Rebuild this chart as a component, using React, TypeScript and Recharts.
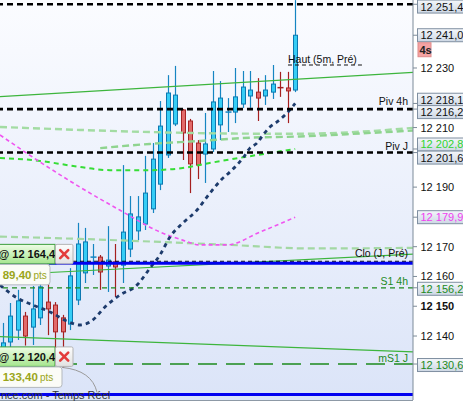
import React from 'react';
import { ComposedChart, Bar, Line, XAxis, YAxis, ReferenceLine } from 'recharts';

const FONT = '"Liberation Sans", Arial, Helvetica, sans-serif';

// ---- candles (5 min) ----
const candleIndex = [0, 1, 2, 3, 4, 5, 6, 7, 8, 9, 10, 11, 12, 13, 14, 15, 16, 17, 18, 19, 20, 21, 22, 23, 24, 25, 26, 27, 28, 29, 30, 31, 32, 33, 34, 35, 36, 37, 38, 39];
const opens = [12134.6, 12138.0, 12142.0, 12146.7, 12143.0, 12146.1, 12151.4, 12150.4, 12146.1, 12144.0, 12152.1, 12161.2, 12166.5, 12166.5, 12163.5, 12164.9, 12163.8, 12169.2, 12175.3, 12177.6, 12182.7, 12191.0, 12200.8, 12211.2, 12215.9, 12212.2, 12204.8, 12201.1, 12202.8, 12210.9, 12215.2, 12215.2, 12217.9, 12220.6, 12221.9, 12220.6, 12221.9, 12223.4, 12223.3, 12222.6];
const highs = [12144.4, 12151.1, 12155.5, 12148.1, 12156.8, 12159.1, 12157.5, 12151.4, 12147.1, 12162.8, 12178.0, 12176.3, 12170.9, 12167.2, 12176.9, 12170.9, 12197.4, 12187.0, 12187.0, 12200.5, 12204.8, 12218.9, 12227.6, 12230.7, 12216.2, 12212.9, 12205.8, 12214.9, 12229.0, 12225.6, 12219.9, 12230.0, 12229.0, 12229.0, 12226.6, 12227.6, 12231.0, 12228.7, 12228.7, 12252.8];
const lows = [12133.3, 12135.3, 12138.7, 12136.8, 12137.0, 12143.7, 12140.3, 12133.6, 12129.3, 12142.0, 12150.4, 12157.8, 12160.5, 12155.5, 12154.8, 12153.1, 12157.8, 12166.5, 12172.2, 12175.6, 12181.3, 12189.0, 12199.8, 12210.5, 12199.1, 12188.0, 12192.7, 12191.4, 12201.8, 12205.8, 12208.5, 12211.5, 12216.6, 12216.6, 12212.2, 12217.6, 12219.6, 12220.3, 12211.5, 12221.9];
const closes = [12137.7, 12146.7, 12151.8, 12140.0, 12149.1, 12156.5, 12149.1, 12141.4, 12141.4, 12160.2, 12170.9, 12171.6, 12166.5, 12161.5, 12165.5, 12163.2, 12174.9, 12181.0, 12180.0, 12188.0, 12199.4, 12210.5, 12221.6, 12220.9, 12208.2, 12197.8, 12197.4, 12204.5, 12218.6, 12219.9, 12215.2, 12220.3, 12223.6, 12222.6, 12219.9, 12222.6, 12224.6, 12223.2, 12222.3, 12241.0];

// ---- indicator curves ({i: bar index, v: price}) ----
const trendUpper = [{ i: -0.36, v: 12220.4 }, { i: 54.71, v: 12228.5 }];
const trendMid = [{ i: -0.36, v: 12160.5 }, { i: 54.71, v: 12167.5 }];
const trendLow = [{ i: -0.36, v: 12139.8 }, { i: 54.71, v: 12134.7 }];

const greenA = [{ i: -0.36, v: 12210.2 }, { i: 10.3, v: 12209.2 }, { i: 21.0, v: 12208.4 }, { i: 30.3, v: 12208.0 }, { i: 39.6, v: 12207.9 }, { i: 47.6, v: 12208.6 }, { i: 54.71, v: 12209.9 }];
const greenB = [{ i: 13.0, v: 12203.1 }, { i: 19.6, v: 12204.5 }, { i: 26.3, v: 12205.5 }, { i: 33.0, v: 12206.6 }, { i: 39.6, v: 12207.0 }, { i: 47.6, v: 12208.0 }, { i: 54.71, v: 12209.0 }];
const greenBright = [{ i: -0.36, v: 12199.8 }, { i: 5.0, v: 12198.8 }, { i: 9.4, v: 12197.1 }, { i: 14.3, v: 12195.7 }, { i: 19.6, v: 12195.7 }, { i: 24.0, v: 12196.4 }, { i: 27.6, v: 12198.1 }, { i: 33.0, v: 12200.4 }, { i: 39, v: 12202.8 }];
const greenLow = [{ i: -0.36, v: 12173.4 }, { i: 10.3, v: 12172.6 }, { i: 21.0, v: 12171.6 }, { i: 30.3, v: 12170.6 }, { i: 41.0, v: 12169.4 }, { i: 54.71, v: 12169.6 }];
const pinkAvg = [{ i: -0.36, v: 12207.5 }, { i: 5.0, v: 12198.4 }, { i: 10.3, v: 12190.0 }, { i: 15.6, v: 12182.3 }, { i: 21.0, v: 12174.9 }, { i: 24.0, v: 12172.2 }, { i: 26.3, v: 12170.6 }, { i: 29.9, v: 12170.6 }, { i: 34.3, v: 12174.9 }, { i: 39, v: 12179.9 }];
const navyTrail = [{ i: -0.36, v: 12157.1 }, { i: 1.91, v: 12152.8 }, { i: 4.04, v: 12150.4 }, { i: 6.31, v: 12148.1 }, { i: 8.57, v: 12145.0 }, { i: 10.31, v: 12143.7 }, { i: 11.64, v: 12144.7 }, { i: 13.91, v: 12150.4 }, { i: 15.64, v: 12153.8 }, { i: 17.91, v: 12157.1 }, { i: 19.64, v: 12162.8 }, { i: 20.97, v: 12167.2 }, { i: 22.31, v: 12173.3 }, { i: 24.04, v: 12178.0 }, { i: 25.91, v: 12182.3 }, { i: 27.64, v: 12188.0 }, { i: 29.24, v: 12192.7 }, { i: 30.31, v: 12195.1 }, { i: 32.04, v: 12199.8 }, { i: 32.97, v: 12203.1 }, { i: 33.91, v: 12204.8 }, { i: 34.71, v: 12207.5 }, { i: 35.51, v: 12209.9 }, { i: 36.57, v: 12211.9 }, { i: 37.64, v: 12214.2 }, { i: 39, v: 12218.1 }];
const hautSegment = [{ i: 38.04, v: 12231.0 }, { i: 47.9, v: 12231.0 }];

// ---- levels ----
const levelR = 12251.4;
const levelPiv4h = 12216.2;
const levelPivJ = 12201.6;
const levelClo = 12165.1;
const levelS14h = 12156.2;
const levelMS1J = 12130.6;
const orderHigh = 12164.4;
const orderLow = 12120.4;
const orderHighPts = '89,40';
const orderLowPts = '133,40';

// ---- axis ----
const X_DOMAIN = [-0.36, 54.71];
const Y_DOMAIN = [12118.52, 12252.83];
const regularTicks = [12140, 12150, 12160, 12170, 12190, 12210, 12230];
const boxLevels = [12251.4, 12241.0, 12218.1, 12216.2, 12202.8, 12201.6, 12179.9, 12156.2, 12130.6];
const boxColors = ['#111111', '#111111', '#111111', '#111111', '#2fd52f', '#111111', '#f040f0', '#1d8a1d', '#1d8a1d'];
const boxShift = [2.3, 0, -3.7, 3, -4.5, 5, 0, 1, 1];
const timerText = '4s';

const BODY_W = 5;

const candles = candleIndex.map((i, k) => ({
  i,
  o: opens[k],
  h: highs[k],
  l: lows[k],
  c: closes[k],
  range: [lows[k], highs[k]],
}));

const fmt = (v: number, dec: boolean) => {
  const s = dec ? v.toFixed(1) : String(Math.round(v));
  const [ip, fp] = s.split('.');
  return ip.slice(0, -3) + ' ' + ip.slice(-3) + (fp !== undefined ? ',' + fp : '');
};

function Candle(props: any) {
  const { x, y, width, height, index } = props;
  const d = candles[index];
  if (!d || x == null || y == null) return <g />;
  const { o, c, h, l } = d;
  const up = c >= o;
  const top0 = Math.min(y, y + height);
  const H = Math.abs(height);
  const span = h - l || 1;
  const py = (v: number) => top0 + ((h - v) / span) * H;
  const cx = Math.round(x + (width || 0) / 2) + 0.5;
  const bx = cx - BODY_W / 2;
  const bt = py(Math.max(o, c));
  const bb = py(Math.min(o, c));
  const wick = up ? '#1585c2' : '#a51f1f';
  const fill = up ? '#36cdf5' : '#e26a6a';
  const edge = up ? '#0c78b0' : '#a52424';
  const bh = bb - bt;
  return (
    <g>
      <line x1={cx} x2={cx} y1={top0} y2={top0 + H} stroke={wick} strokeWidth={1.2} />
      {bh < 1.2 ? (
        <line x1={bx - 0.5} x2={bx + BODY_W + 0.5} y1={bt} y2={bt} stroke={wick} strokeWidth={1.5} />
      ) : (
        <rect x={bx + 0.5} y={bt} width={BODY_W - 1} height={bh} fill={fill} stroke={edge} strokeWidth={1} />
      )}
    </g>
  );
}

function AxisTick(props: any) {
  const { x, y, payload } = props;
  const v = payload.value;
  const bi = boxLevels.indexOf(v);
  if (bi < 0) {
    return (
      <text x={x + 1.5} y={y + 4} fontSize={11} fontFamily={FONT} fill="#111" fontWeight={v === 12150 ? 'bold' : 'normal'}>
        {fmt(v, false)}
      </text>
    );
  }
  const cy = y + boxShift[bi];
  const gid = 'boxg' + bi;
  return (
    <g>
      <defs>
        <linearGradient id={gid} x1="0" y1="0" x2="0" y2="1">
          <stop offset="0" stopColor="#f4f7fb" />
          <stop offset="1" stopColor="#cdd7e4" />
        </linearGradient>
      </defs>
      <rect x={x - 1.5} y={cy - 6.5} width={60} height={13} fill={`url(#${gid})`} stroke="#7f8fa1" strokeWidth={1} />
      <text x={x + 1.5} y={cy + 4} fontSize={11} fontFamily={FONT} fill={boxColors[bi]}>
        {fmt(v, true)}
      </text>
      {bi === 1 && (
        <g>
          <rect x={x - 1} y={cy + 7.5} width={13} height={14} fill="#f5a3a3" stroke="#e08a8a" />
          <text x={x + 0.5} y={cy + 18.5} fontSize={11} fontWeight="bold" fontFamily={FONT} fill="#222">
            {timerText}
          </text>
        </g>
      )}
    </g>
  );
}

const rightLabel = (text: string, color: string, lift: number) => (props: any) => {
  const vb = props.viewBox || { x: 0, y: 0, width: 413 };
  return (
    <text x={vb.x + vb.width - 5} y={vb.y - lift} textAnchor="end" fontSize={10.5} fontFamily={FONT} fill={color}>
      {text}
    </text>
  );
};

function XIcon({ cx, cy }: { cx: number; cy: number }) {
  return (
    <g stroke="#e33b3b" strokeWidth={2.6} strokeLinecap="round">
      <line x1={cx - 4} y1={cy - 4} x2={cx + 4} y2={cy + 4} />
      <line x1={cx - 4} y1={cy + 4} x2={cx + 4} y2={cy - 4} />
    </g>
  );
}

function OrderBox({ top, price, pts, ptsWidth }: { top: number; price: number; pts: string; ptsWidth: number }) {
  return (
    <g>
      <defs>
        <linearGradient id={'og' + price} x1="0" y1="0" x2="0" y2="1">
          <stop offset="0" stopColor="#effde6" />
          <stop offset="1" stopColor="#a5e58e" />
        </linearGradient>
        <linearGradient id={'xg' + price} x1="0" y1="0" x2="0" y2="1">
          <stop offset="0" stopColor="#fdfdfd" />
          <stop offset="1" stopColor="#e2e2e2" />
        </linearGradient>
      </defs>
      <rect x={-3} y={top} width={58} height={19.5} fill={`url(#og${price})`} stroke="#3b9e3b" strokeWidth={1} />
      <text x={-1.5} y={top + 14} fontSize={11} fontWeight="bold" fontFamily={FONT} fill="#111">
        {'@ ' + fmt(price, true)}
      </text>
      <rect x={55.5} y={top} width={17.5} height={19.5} fill={`url(#xg${price})`} stroke="#b3b3b3" strokeWidth={1} rx={1.5} />
      <XIcon cx={64.2} cy={top + 9.8} />
      <rect x={-4} y={top + 20} width={ptsWidth} height={20.5} rx={3} fill="#fbfcf7" stroke="#b3b8bd" strokeWidth={1} />
      <text x={2.7} y={top + 34.5} fontFamily={FONT} fill="#9aa51a">
        <tspan fontSize={11.5} fontWeight="bold">{pts}</tspan>
        <tspan fontSize={10} dx={2}>pts</tspan>
      </text>
    </g>
  );
}

const orderHighLabel = (props: any) => {
  const vb = props.viewBox || { y: 263 };
  return <OrderBox top={vb.y - 19} price={orderHigh} pts={orderHighPts} ptsWidth={54} />;
};

const orderLowLabel = (props: any) => {
  const vb = props.viewBox || { y: 394 };
  return (
    <g>
      <path d={`M 62 ${vb.y - 27} Q 92 ${vb.y - 24} 97 ${vb.y - 2}`} fill="none" stroke="#9a9a9a" strokeWidth={1} />
      <OrderBox top={vb.y - 47.5} price={orderLow} pts={orderLowPts} ptsWidth={66} />
      <text x={1} y={vb.y + 5} fontSize={11} fontFamily={FONT} fill="#333">
        nce.com - Temps Réel
      </text>
    </g>
  );
};

const hautLabel = (props: any) => {
  if (props.index !== 0) return <g />;
  return (
    <text x={props.x} y={props.y - 2} fontSize={10.5} fontFamily={FONT} fill="#111">
      Haut (5m, Pré)
    </text>
  );
};

export default function App() {
  return (
    <div style={{ position: 'absolute', left: 0, top: 0, width: 463, height: 402, background: '#ffffff', overflow: 'hidden' }}>
      <div style={{ position: 'absolute', left: 0, top: 0, width: 413, height: 400, background: 'linear-gradient(#fbfcff, #dbe4f8)' }} />
      <div style={{ position: 'absolute', left: 0, top: 400, width: 413, height: 1, background: '#8d99a6' }} />
      <div style={{ position: 'absolute', left: 0, top: 0 }}>
        <ComposedChart width={463} height={402} data={candles} margin={{ top: 0, right: 0, bottom: 2, left: 0 }}>
          <XAxis type="number" dataKey="i" domain={X_DOMAIN} hide allowDataOverflow />
          <YAxis
            orientation="right"
            width={50}
            type="number"
            domain={Y_DOMAIN}
            allowDataOverflow
            ticks={[...regularTicks, ...boxLevels]}
            interval={0}
            tick={(p: any) => <AxisTick {...p} />}
            tickSize={4}
            tickMargin={2}
            tickLine={{ stroke: '#7d8b99' }}
            axisLine={{ stroke: '#7d8b99' }}
          />

          <Bar dataKey="range" barSize={5} shape={(p: any) => <Candle {...p} />} isAnimationActive={false} />

          <Line data={trendUpper} dataKey="v" type="linear" stroke="#3db53d" strokeWidth={1.2} dot={false} activeDot={false} isAnimationActive={false} />
          <Line data={trendMid} dataKey="v" type="linear" stroke="#3db53d" strokeWidth={1.2} dot={false} activeDot={false} isAnimationActive={false} />
          <Line data={trendLow} dataKey="v" type="linear" stroke="#3db53d" strokeWidth={1.2} dot={false} activeDot={false} isAnimationActive={false} />

          <Line data={greenA} dataKey="v" type="monotone" stroke="#a3dca3" strokeWidth={2.4} strokeDasharray="7 4" dot={false} activeDot={false} isAnimationActive={false} />
          <Line data={greenB} dataKey="v" type="monotone" stroke="#8fd48f" strokeWidth={2.4} strokeDasharray="7 4" dot={false} activeDot={false} isAnimationActive={false} />
          <Line data={greenLow} dataKey="v" type="monotone" stroke="#a3d8a3" strokeWidth={2.2} strokeDasharray="7 4" dot={false} activeDot={false} isAnimationActive={false} />
          <Line data={greenBright} dataKey="v" type="monotone" stroke="#36dd36" strokeWidth={2} strokeDasharray="5 4" dot={false} activeDot={false} isAnimationActive={false} />
          <Line data={pinkAvg} dataKey="v" type="monotone" stroke="#f055f0" strokeWidth={1.6} strokeDasharray="4 3" dot={false} activeDot={false} isAnimationActive={false} />
          <Line data={navyTrail} dataKey="v" type="monotone" stroke="#1d3b6c" strokeWidth={2.8} strokeDasharray="4 4" dot={false} activeDot={false} isAnimationActive={false} />
          <Line data={hautSegment} dataKey="v" type="linear" stroke="#111" strokeWidth={1} strokeDasharray="4 3" dot={false} activeDot={false} isAnimationActive={false} label={hautLabel} />

          <ReferenceLine y={levelR} stroke="#000" strokeWidth={2.6} strokeDasharray="6 4" />
          <ReferenceLine y={levelPiv4h} stroke="#000" strokeWidth={2.6} strokeDasharray="6 4" label={rightLabel('Piv 4h', '#111', 3.6)} />
          <ReferenceLine y={levelPivJ} stroke="#000" strokeWidth={2.6} strokeDasharray="6 4" label={rightLabel('Piv J', '#111', 3)} />
          <ReferenceLine y={levelClo} stroke="#000" strokeWidth={1} strokeDasharray="4 3" label={rightLabel('Clo (J, Pré)', '#111', 3.8)} />
          <ReferenceLine y={levelS14h} stroke="#1d8a1d" strokeWidth={1.3} strokeDasharray="5 4" label={rightLabel('S1 4h', '#1d8a1d', 3)} />
          <ReferenceLine y={levelMS1J} stroke="#1d8a1d" strokeWidth={1.3} strokeDasharray="19 9" label={rightLabel('mS1 J', '#1d8a1d', 2.3)} />
          <ReferenceLine y={orderHigh} stroke="#0000f0" strokeWidth={3} label={orderHighLabel} />
          <ReferenceLine y={orderLow} stroke="#0000f0" strokeWidth={3} label={orderLowLabel} />
        </ComposedChart>
      </div>
    </div>
  );
}
